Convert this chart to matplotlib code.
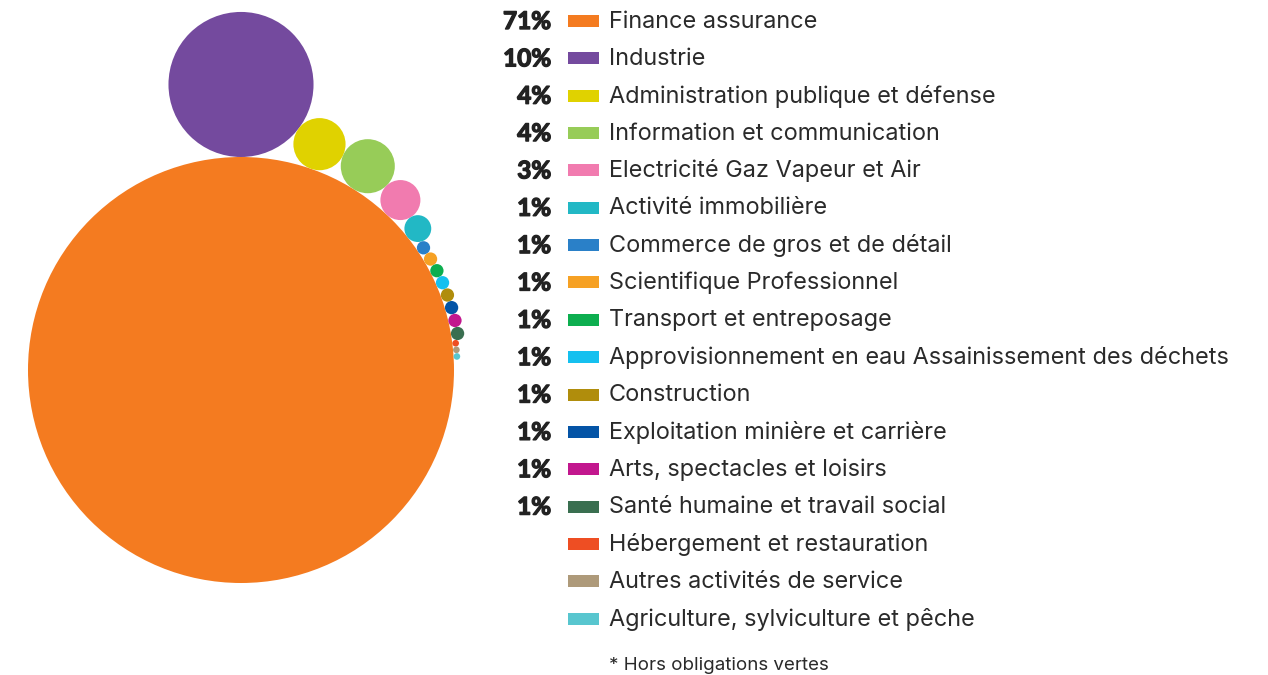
import numpy as np
import matplotlib
matplotlib.use("Agg")
import matplotlib.pyplot as plt
import matplotlib.patheffects as pe
from matplotlib.patches import Circle, Rectangle

# ---- data ----
sectors = ["Finance assurance", "Industrie", "Administration publique et défense",
           "Information et communication", "Electricité Gaz Vapeur et Air",
           "Activité immobilière", "Commerce de gros et de détail",
           "Scientifique Professionnel", "Transport et entreposage",
           "Approvisionnement en eau Assainissement des déchets", "Construction",
           "Exploitation minière et carrière", "Arts, spectacles et loisirs",
           "Santé humaine et travail social", "Hébergement et restauration",
           "Autres activités de service", "Agriculture, sylviculture et pêche"]
pct_labels = ["71%", "10%", "4%", "4%", "3%", "1%", "1%", "1%", "1%", "1%",
              "1%", "1%", "1%", "1%", "", "", ""]
# relative circle areas
circle_area = [453.7, 52.6, 6.8, 7.3, 4.0, 1.8, 0.44, 0.44, 0.44, 0.44,
               0.44, 0.44, 0.44, 0.44, 0.11, 0.11, 0.11]
colors = ["#F47B20", "#744A9E", "#E0D200", "#97CC58", "#F17BAF", "#22B8C5",
          "#2A80C8", "#F6A124", "#0DAE4F", "#15C0EF", "#B08D0C", "#0454A6",
          "#C2178E", "#3A6F50", "#EE4E23", "#AE9A7A", "#58C6CF"]
footnote = "* Hors obligations vertes"

W, H = 1268, 675
fig = plt.figure(figsize=(W / 100, H / 100), dpi=100)
ax = fig.add_axes([0, 0, 1, 1])
ax.set_xlim(0, W)
ax.set_ylim(H, 0)
ax.set_aspect("equal")
ax.axis("off")

radii = 10 * np.sqrt(np.array(circle_area))
cx, cy = 241, 370
R = radii[0]
ax.add_patch(Circle((cx, cy), R, color=colors[0], lw=0))

theta = 0.0  # clockwise from "up"
prev_r = None
for i in range(1, len(radii)):
    r = radii[i]
    if prev_r is not None:
        d1, d2, d12 = R + prev_r, R + r, prev_r + r
        theta += np.arccos((d1**2 + d2**2 - d12**2) / (2 * d1 * d2))
    d = R + r
    x = cx + d * np.sin(theta)
    y = cy - d * np.cos(theta)
    ax.add_patch(Circle((x, y), r, color=colors[i], lw=0))
    prev_r = r

# legend
y0, dy = 21.5, 37.35
heavy = [pe.withStroke(linewidth=1.0, foreground="#222222")]
for i, (name, p, c) in enumerate(zip(sectors, pct_labels, colors)):
    y = y0 + i * dy
    if p:
        ax.text(551, y, p, ha="right", va="center", fontsize=17.5,
                fontweight="bold", family="Lato", color="#222222",
                path_effects=heavy)
    ax.add_patch(Rectangle((568, y - 6.5), 31, 12, color=c, lw=0))
    ax.text(609, y, name, ha="left", va="center", fontsize=16.9,
            family="Inter", color="#2a2a2a")

ax.text(609, 665, footnote, ha="left", va="center", fontsize=13.5,
        family="Inter", color="#2a2a2a")

fig.savefig("out.png", dpi=100)
